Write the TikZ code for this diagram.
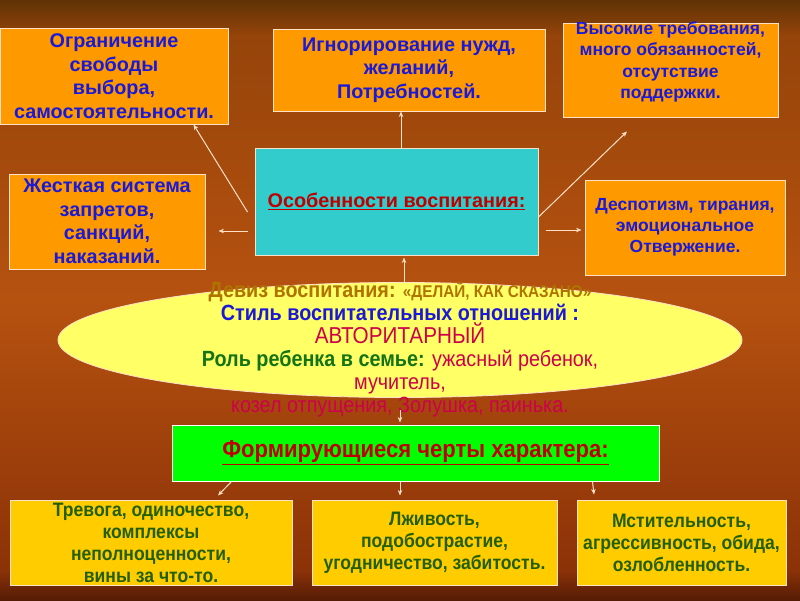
\documentclass[tikz,border=0pt]{standalone}
\usepackage{fontspec}
\setmainfont{Liberation Sans}
\newfontfamily\narrowfont[FakeStretch=0.9]{Liberation Sans}
\usepackage{tikz}
\usetikzlibrary{shapes.geometric, arrows.meta}

\definecolor{bgtop}{RGB}{95,50,5}
\definecolor{bghigh}{RGB}{150,68,10}
\definecolor{bgmid}{RGB}{182,82,16}
\definecolor{bglow}{RGB}{140,50,8}
\definecolor{bgbot}{RGB}{85,28,5}
\definecolor{boxorange}{RGB}{255,153,0}
\definecolor{boxgold}{RGB}{255,204,0}
\definecolor{boxcyan}{RGB}{51,204,204}
\definecolor{boxgreen}{RGB}{0,255,0}
\definecolor{ellyellow}{RGB}{255,255,102}
\definecolor{rimc}{RGB}{255,225,200}
\definecolor{txtblue}{RGB}{25,25,215}
\definecolor{txtred}{RGB}{190,0,0}
\definecolor{txtgreen}{RGB}{35,95,0}
\definecolor{txtolive}{RGB}{175,115,0}
\definecolor{txtcrimson}{RGB}{205,0,75}
\definecolor{txtdkgreen}{RGB}{20,115,20}

\pgfdeclareverticalshading{bgshade}{100bp}{color(0bp)=(bgbot); color(25bp)=(bgbot); color(27.5bp)=(bglow); color(50bp)=(bgmid); color(72bp)=(bghigh); color(75bp)=(bgtop); color(100bp)=(bgtop)}

\begin{document}
\begin{tikzpicture}[x=1pt, y=-1pt,
    obox/.style={draw=rimc, line width=1pt, fill=boxorange, text=txtblue, align=center,
      font=\bfseries\fontsize{19.8}{23.5}\selectfont, inner sep=0pt},
    gbox/.style={draw=rimc, line width=1pt, fill=boxgold, text=txtgreen, align=center,
      font=\narrowfont\bfseries\fontsize{19.5}{22}\selectfont, inner sep=0pt},
    arr/.style={draw=rimc, line width=1pt, -{Stealth[length=5.5pt,width=4.5pt]}}]
    % FONDO
    \path[shading=bgshade] (0,0) rectangle (800,600);
    \useasboundingbox (0,0) rectangle (800,600);

    % RIQUADRI
    \node[obox, minimum width=228pt, minimum height=96pt] (ogran) at (114,76)
      {Ограничение\\свободы\\выбора,\\самостоятельности.};
    \node[obox, minimum width=272pt, minimum height=82pt] (ignor) at (409,70)
      {Игнорирование нужд,\\желаний,\\Потребностей.};
    \node[obox, minimum width=215pt, minimum height=94pt] (trebov) at (670.5,70) {};
    \node[text=txtblue, align=center, font=\bfseries\fontsize{17.5}{21.5}\selectfont] (trebovT) at (670.5,62)
      {Высокие требования,\\много обязанностей,\\отсутствие\\поддержки.};
    \node[obox, minimum width=196pt, minimum height=95pt] (zhest) at (107,221.5)
      {Жесткая система\\запретов,\\санкций,\\наказаний.};
    \node[obox, fill=boxcyan, text=txtred, minimum width=283pt, minimum height=107pt] (osob) at (396.5,201.5)
      {\underline{Особенности воспитания:}};
    \node[obox, font=\bfseries\fontsize{17.5}{21}\selectfont, minimum width=200pt, minimum height=95pt] (despot) at (685,227.5)
      {Деспотизм, тирания,\\эмоциональное\\Отвержение.};

    % ELLISSE
    \node[ellipse, draw=rimc, line width=0.8pt, fill=ellyellow, minimum width=684pt, minimum height=115pt, inner sep=0pt] (stil) at (400,340) {};
    \node[align=center, font=\narrowfont\bfseries\fontsize{22}{23}\selectfont] (stilT) at (400,350)
      {\textcolor{txtolive}{Девиз воспитания: {\fontsize{17}{23}\selectfont«ДЕЛАЙ, КАК СКАЗАНО»}}\\
       \textcolor{txtblue}{Стиль воспитательных отношений :}\\
       \textcolor{txtcrimson}{\mdseries\fontsize{23}{23}\selectfont АВТОРИТАРНЫЙ}\\
       \textcolor{txtdkgreen}{Роль ребенка в семье:} \textcolor{txtcrimson}{\mdseries ужасный ребенок,}\\
       \textcolor{txtcrimson}{\mdseries мучитель,}\\
       \textcolor{txtcrimson}{\mdseries козел отпущения, Золушка, паинька.}};

    \node[draw=white, line width=1pt, fill=boxgreen, text=txtred, minimum width=487pt, minimum height=56pt,
      font=\narrowfont\bfseries\fontsize{24.5}{26}\selectfont] (formir) at (415.5,453)
      {\underline{Формирующиеся черты характера:}};

    \node[gbox, minimum width=282pt, minimum height=85pt] (trevoga) at (151,542.5)
      {Тревога, одиночество,\\комплексы\\неполноценности,\\вины за что-то.};
    \node[gbox, minimum width=245pt, minimum height=85pt] (lzhiv) at (434.5,542.5)
      {Лживость,\\подобострастие,\\угодничество, забитость.};
    \node[gbox, minimum width=209pt, minimum height=85pt] (mstit) at (681.5,542.5)
      {Мстительность,\\агрессивность, обида,\\озлобленность.};

    % FRECCE
    \draw[arr] ([shift={(-7,10.5)}]osob.west) -- ([shift={(-35,0)}]ogran.south east);
    \draw[arr] ([shift={(-7,29.5)}]osob.west) -- ([shift={(13,9.5)}]zhest.east);
    \draw[arr] ([xshift=4.5pt]osob.north) -- ([xshift=-8pt]ignor.south);
    \draw[arr] ([shift={(0,15.5)}]osob.east) -- ([shift={(-43.5,14)}]trebov.south);
    \draw[arr] ([shift={(7,28.5)}]osob.east) -- ([shift={(-3,2.5)}]despot.west);
    \draw[arr] ([xshift=4pt]stil.north) -- ([shift={(7.5,2)}]osob.south);
    \draw[arr] ([yshift=-12]stil.south) -- ([shift={(-15.5,-2)}]formir.north);
    \draw[arr] ([xshift=60pt]formir.south west) -- ([shift={(67,-4)}]trevoga.north);
    \draw[arr] ([xshift=-15.5pt]formir.south) -- ([shift={(-34.5,-4)}]lzhiv.north);
    \draw[arr] ([xshift=-67pt]formir.south east) -- ([shift={(-87.5,-5)}]mstit.north);
\end{tikzpicture}
\end{document}
